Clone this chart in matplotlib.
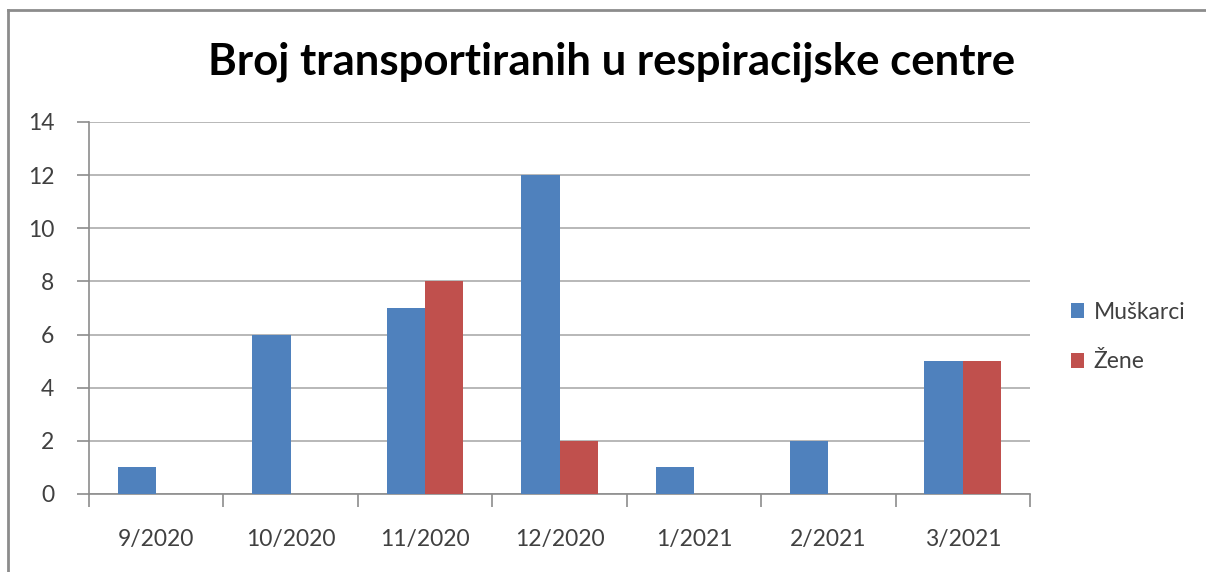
import matplotlib
matplotlib.use("Agg")
import matplotlib.pyplot as plt
from matplotlib.lines import Line2D
from matplotlib.patches import Patch
import numpy as np

categories = ["9/2020", "10/2020", "11/2020", "12/2020", "1/2021", "2/2021", "3/2021"]
muskarci = [1, 6, 7, 12, 1, 2, 5]
zene = [0, 0, 8, 2, 0, 0, 5]
series_names = ["Muškarci", "Žene"]
title = "Broj transportiranih u respiracijske centre"

plt.rcParams['font.family'] = ['Lato', 'DejaVu Sans']

W, H = 1206, 572
fig = plt.figure(figsize=(W / 100, H / 100), dpi=100)
ax = fig.add_axes([89 / W, 1 - 494 / H, (1030 - 89) / W, (494 - 122) / H])

blue = "#4F81BD"
red = "#C0504D"
x = np.arange(len(categories))
bw = 1 / 3.5
ax.bar(x - bw / 2, muskarci, width=bw, color=blue, zorder=3)
ax.bar(x + bw / 2, zene, width=bw, color=red, zorder=3)

ax.set_xlim(-0.5, len(categories) - 0.5)
ax.set_ylim(0, 14)
ax.set_yticks(range(0, 15, 2))
ax.yaxis.grid(True, color="#ABABAB", linewidth=1.2, zorder=0)
ax.set_axisbelow(True)

ax.set_xticks(np.arange(-0.5, len(categories), 1))
ax.set_xticklabels([])
ax.set_xticks(x, minor=True)
ax.set_xticklabels(categories, minor=True)
ax.tick_params(axis='x', which='major', length=9, color="#8C8C8C", width=1.2)
ax.tick_params(axis='x', which='minor', length=0, pad=25, labelsize=16.5, labelcolor="#404040")
ax.tick_params(axis='y', length=9, color="#8C8C8C", width=1.2, pad=16, labelsize=16.5, labelcolor="#404040")

for s in ["top", "right"]:
    ax.spines[s].set_visible(False)
for s in ["left", "bottom"]:
    ax.spines[s].set_color("#8C8C8C")
    ax.spines[s].set_linewidth(1.2)

fig.text(612 / W, 1 - 62 / H, title, ha="center", va="center", fontsize=31.5, fontweight="bold", color="black")

handles = [Patch(facecolor=blue), Patch(facecolor=red)]
leg = fig.legend(handles, series_names, loc="center left", bbox_to_anchor=(1050 / W, 1 - 337 / H),
                 frameon=False, fontsize=16.5, handlelength=0.6, handleheight=0.6, handletextpad=0.4,
                 labelspacing=1.25)
for t in leg.get_texts():
    t.set_color("#404040")

# outer chart border (partially cut off)
fig.add_artist(Line2D([8 / W, 8 / W], [0, 1 - 10 / H], transform=fig.transFigure, color="#8C8C8C", linewidth=2))
fig.add_artist(Line2D([8 / W, 1], [1 - 10 / H, 1 - 10 / H], transform=fig.transFigure, color="#8C8C8C", linewidth=2))

fig.savefig("out.png", dpi=100)
